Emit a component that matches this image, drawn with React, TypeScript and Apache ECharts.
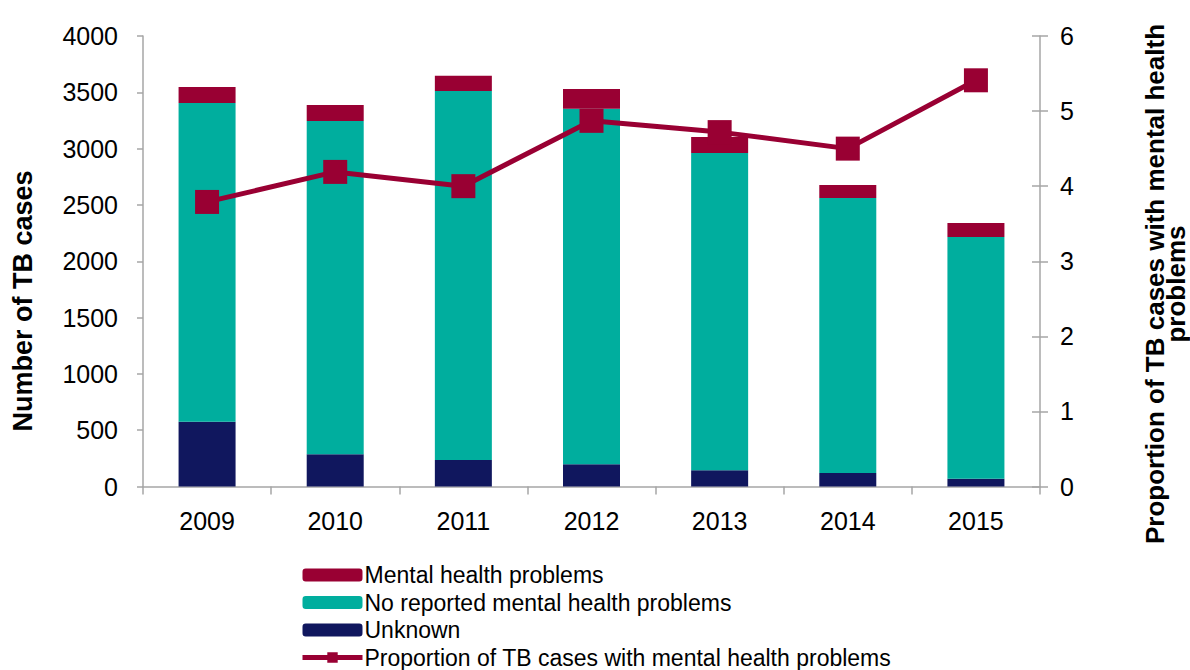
import React, { useEffect, useRef } from "react";
import * as echarts from "echarts";

const years = ["2009", "2010", "2011", "2012", "2013", "2014", "2015"];
const unknownCases = [575, 286, 235, 197, 144, 120, 69];
const noReported = [2831, 2960, 3277, 3156, 2818, 2442, 2147];
const mentalHealth = [142, 142, 134, 177, 142, 116, 124];
const proportion = [3.79, 4.19, 4.0, 4.87, 4.72, 4.5, 5.41];

const leftTitle = "Number of TB cases";
const rightTitle = "Proportion of TB cases with mental health\nproblems";
const nameMental = "Mental health problems";
const nameNo = "No reported mental health problems";
const nameUnknown = "Unknown";
const nameProp = "Proportion of TB cases with mental health problems";

const FONT = "'Liberation Sans', Arial, sans-serif";
const AXIS_GREY = "#a6a6a6";
const CRIMSON = "#990033";

export default function App() {
  const ref = useRef<HTMLDivElement>(null);
  useEffect(() => {
    document.body.style.margin = "0";
    if (!ref.current) return;
    const chart = echarts.init(ref.current, undefined, { renderer: "svg" });
    const labelStyle = { color: "#000", fontSize: 25, fontFamily: FONT };
    chart.setOption({
      animation: false,
      grid: { left: 143, right: 150, top: 36, bottom: 183.5 },
      legend: {
        orient: "vertical",
        left: 300,
        top: 563,
        padding: 0,
        height: 110,
        itemWidth: 60,
        itemHeight: 13,
        itemGap: 3.5,
        data: [
          nameMental,
          nameNo,
          nameUnknown,
          { name: nameProp, lineStyle: { width: 5 }, itemStyle: { color: CRIMSON } },
        ],
        textStyle: { fontSize: 23, fontFamily: FONT, color: "#000", lineHeight: 24, padding: [0, 0, 0, -3] },
      },
      xAxis: {
        type: "category",
        data: years,
        axisLine: { lineStyle: { color: AXIS_GREY, width: 1.5 } },
        axisTick: { show: true, alignWithLabel: false, length: 8, lineStyle: { color: AXIS_GREY, width: 1.5 } },
        axisLabel: { ...labelStyle, margin: 22 },
      },
      yAxis: [
        {
          type: "value",
          min: 0,
          max: 4000,
          interval: 500,
          splitLine: { show: false },
          axisLine: { show: true, lineStyle: { color: AXIS_GREY, width: 1.5 } },
          axisTick: { show: true, length: 6, lineStyle: { color: AXIS_GREY, width: 1.5 } },
          axisLabel: { ...labelStyle, margin: 25, formatter: (v: number) => String(v) },
        },
        {
          type: "value",
          position: "right",
          min: 0,
          max: 6,
          interval: 1,
          splitLine: { show: false },
          axisLine: { show: true, lineStyle: { color: AXIS_GREY, width: 1.5 } },
          axisTick: { show: true, length: 8, lineStyle: { color: AXIS_GREY, width: 1.5 } },
          axisLabel: { ...labelStyle, margin: 20, formatter: (v: number) => String(v) },
        },
        {
          type: "value",
          position: "right",
          min: 0,
          max: 6,
          interval: 1,
          splitLine: { show: false },
          axisLine: { show: false },
          axisTick: { show: true, inside: true, length: 8, lineStyle: { color: AXIS_GREY, width: 1.5 } },
          axisLabel: { show: false },
        },
      ],
      graphic: [
        {
          type: "text",
          x: 23,
          y: 301,
          rotation: Math.PI / 2,
          style: {
            text: leftTitle,
            fontSize: 27,
            fontWeight: "bold",
            fontFamily: FONT,
            fill: "#000",
            textAlign: "center",
            textVerticalAlign: "middle",
          },
        },
        {
          type: "text",
          x: 1165,
          y: 284,
          rotation: Math.PI / 2,
          style: {
            text: rightTitle,
            fontSize: 26,
            fontWeight: "bold",
            fontFamily: FONT,
            fill: "#000",
            lineHeight: 21,
            textAlign: "center",
            textVerticalAlign: "middle",
          },
        },
      ],
      series: [
        {
          name: nameUnknown,
          type: "bar",
          stack: "cases",
          data: unknownCases,
          barWidth: 57,
          itemStyle: { color: "#10175e" },
        },
        {
          name: nameNo,
          type: "bar",
          stack: "cases",
          data: noReported,
          barWidth: 57,
          itemStyle: { color: "#00ae9e" },
        },
        {
          name: nameMental,
          type: "bar",
          stack: "cases",
          data: mentalHealth,
          barWidth: 57,
          itemStyle: { color: CRIMSON },
        },
        {
          name: nameProp,
          type: "line",
          yAxisIndex: 1,
          data: proportion,
          symbol: "rect",
          symbolSize: 24,
          z: 5,
          lineStyle: { color: CRIMSON, width: 5 },
          itemStyle: { color: CRIMSON },
        },
      ],
    });
    return () => chart.dispose();
  }, []);
  return <div ref={ref} style={{ width: 1190, height: 670 }} />;
}
